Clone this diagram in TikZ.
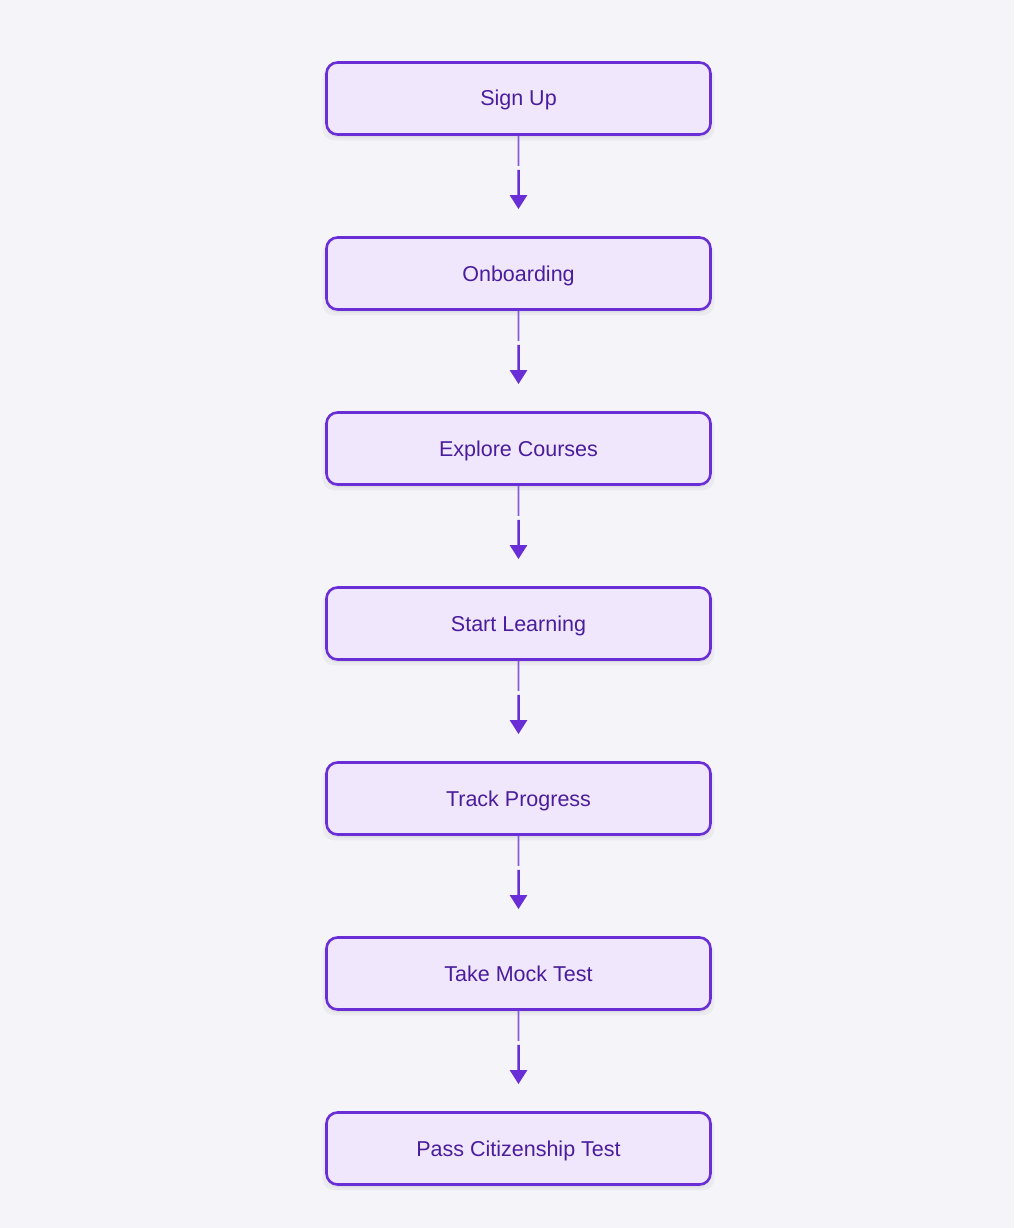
\documentclass[tikz,border=0pt]{standalone}
\usepackage{fontspec}
\setmainfont{Liberation Sans}
\usetikzlibrary{arrows.meta,positioning,calc,shadows}
\definecolor{canvas}{HTML}{F5F4F9}
\definecolor{lilac}{HTML}{F0E7FC}
\definecolor{violet}{HTML}{6A2ED6}
\definecolor{ink}{HTML}{4A1D9C}

\begin{document}
\begin{tikzpicture}[x=1pt,y=1pt,
    stepbox/.style={draw=violet,fill=lilac,line width=2.6pt,rounded corners=11pt,
      minimum width=384pt,minimum height=72pt,inner sep=0pt,
      text height=16pt,text depth=1pt,
      text=ink,font=\fontsize{21.5}{25}\selectfont,
      drop shadow={shadow xshift=0pt,shadow yshift=-5pt,shadow scale=1.02,
        fill=black,opacity=0.04},
      drop shadow={shadow xshift=0pt,shadow yshift=-3pt,fill=black,opacity=0.05}},
    stub/.style={draw=violet!80,line width=1.7pt},
    flow/.style={draw=violet,line width=2.5pt,-{Triangle[length=14pt,width=17pt]}},
    node distance=100.4pt]
  \fill[canvas] (0,0) rectangle (1014,-1228);
  \useasboundingbox (0,0) rectangle (1014,-1228);

  \node[stepbox] (su) at (518.5,-98.5) {Sign Up};
  \node[stepbox,below=of su] (ob) {Onboarding};
  \node[stepbox,below=of ob] (ec) {Explore Courses};
  \node[stepbox,below=of ec] (sl) {Start Learning};
  \node[stepbox,below=of sl] (tp) {Track Progress};
  \node[stepbox,below=of tp] (mt) {Take Mock Test};
  \node[stepbox,below=of mt] (pc) {Pass Citizenship Test};

  % connectors with the small break below each box
  \foreach \a/\b in {su/ob,ob/ec,ec/sl,sl/tp,tp/mt,mt/pc}{
    \draw[stub] (\a.south) -- ($(\a.south)!0.30!(\b.north)$);
    \draw[flow] ($(\a.south)!0.34!(\b.north)$) -- ($(\a.south)!0.73!(\b.north)$);
  }
\end{tikzpicture}
\end{document}
